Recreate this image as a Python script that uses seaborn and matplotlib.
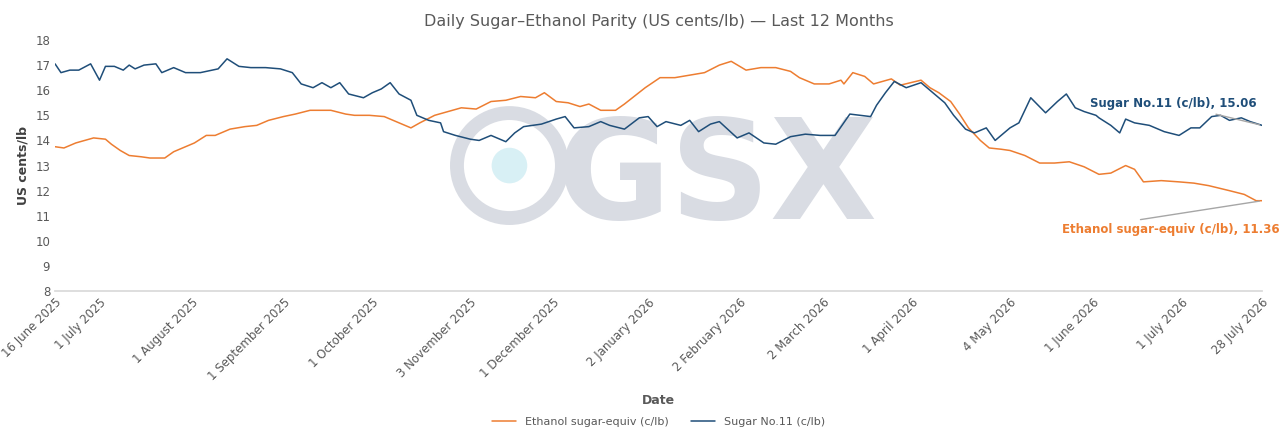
import pandas as pd
import numpy as np
import matplotlib.pyplot as plt
import seaborn as sns
from matplotlib.patches import Circle

sns.set_theme(style="white")
plt.rcParams['font.family'] = ['DejaVu Sans']

start = pd.Timestamp("2025-06-16")

# days since 16 June 2025
sugar_days = [0, 2, 5, 8, 12, 15, 17, 20, 23, 25, 27, 30, 34, 36, 40, 44, 49, 55, 58, 62, 66, 71, 76, 80,
              83, 87, 90, 93, 96, 99, 104, 107, 110, 113, 116, 120, 122, 126, 130, 131, 135, 140, 143, 147,
              152, 155, 158, 164, 169, 172, 175, 180, 184, 187, 192, 197, 200, 203, 206, 211, 214, 217, 221,
              224, 230, 234, 239, 243, 248, 253, 258, 263, 268, 275, 277, 280, 283, 287, 292, 295, 300, 303,
              307, 310, 314, 317, 320, 322, 325, 329, 334, 338, 341, 344, 347, 351, 352, 356, 359, 361, 364,
              369, 374, 379, 383, 386, 390, 393, 396, 400, 403, 407]
sugar_vals = [17.05, 16.7, 16.8, 16.8, 17.05, 16.4, 16.95, 16.95, 16.8, 17.0, 16.85, 17.0, 17.05, 16.7, 16.9,
              16.7, 16.7, 16.85, 17.25, 16.95, 16.9, 16.9, 16.85, 16.7, 16.25, 16.1, 16.3, 16.1, 16.3, 15.85,
              15.7, 15.9, 16.05, 16.3, 15.85, 15.6, 15.0, 14.8, 14.7, 14.35, 14.2, 14.05, 14.0, 14.2, 13.95,
              14.3, 14.55, 14.65, 14.85, 14.95, 14.5, 14.55, 14.75, 14.6, 14.45, 14.9, 14.95, 14.55, 14.75,
              14.6, 14.8, 14.35, 14.65, 14.75, 14.1, 14.3, 13.9, 13.85, 14.15, 14.25, 14.2, 14.2, 15.05, 14.95,
              15.4, 15.9, 16.35, 16.1, 16.3, 16.0, 15.5, 15.0, 14.45, 14.3, 14.5, 14.0, 14.3, 14.5, 14.7, 15.7,
              15.1, 15.55, 15.85, 15.3, 15.15, 15.0, 14.9, 14.6, 14.3, 14.85, 14.7, 14.6, 14.35, 14.2, 14.5,
              14.5, 14.95, 15.0, 14.8, 14.9, 14.75, 14.6]

ethanol_days = [0, 3, 7, 10, 13, 17, 19, 22, 25, 29, 32, 37, 40, 44, 47, 51, 54, 59, 64, 68, 72, 77, 81, 86,
                93, 98, 101, 106, 111, 116, 120, 123, 128, 131, 137, 142, 147, 152, 157, 162, 165, 169, 173,
                177, 180, 184, 189, 192, 199, 204, 209, 214, 219, 224, 228, 233, 238, 243, 248, 251, 256, 261,
                265, 266, 269, 273, 276, 282, 285, 292, 295, 298, 302, 305, 308, 312, 315, 319, 322, 327, 332,
                337, 342, 347, 352, 356, 361, 364, 367, 373, 379, 384, 389, 396, 401, 405, 407]
ethanol_vals = [13.75, 13.7, 13.9, 14.0, 14.1, 14.05, 13.85, 13.6, 13.4, 13.35, 13.3, 13.3, 13.55, 13.75, 13.9,
                14.2, 14.2, 14.45, 14.55, 14.6, 14.8, 14.95, 15.05, 15.2, 15.2, 15.05, 15.0, 15.0, 14.95, 14.7,
                14.5, 14.7, 15.0, 15.1, 15.3, 15.25, 15.55, 15.6, 15.75, 15.7, 15.9, 15.55, 15.5, 15.35, 15.45,
                15.2, 15.2, 15.45, 16.1, 16.5, 16.5, 16.6, 16.7, 17.0, 17.15, 16.8, 16.9, 16.9, 16.75, 16.5,
                16.25, 16.25, 16.4, 16.25, 16.7, 16.55, 16.25, 16.45, 16.2, 16.4, 16.1, 15.9, 15.55, 15.05, 14.5,
                14.0, 13.7, 13.65, 13.6, 13.4, 13.1, 13.1, 13.15, 12.95, 12.65, 12.7, 13.0, 12.85, 12.35, 12.4,
                12.35, 12.3, 12.2, 12.0, 11.85, 11.6, 11.6]

tick_dates = ["2025-06-16", "2025-07-01", "2025-08-01", "2025-09-01", "2025-10-01", "2025-11-03",
              "2025-12-01", "2026-01-02", "2026-02-02", "2026-03-02", "2026-04-01", "2026-05-04",
              "2026-06-01", "2026-07-01", "2026-07-28"]

sugar_label = "Sugar No.11 (c/lb), 15.06"
ethanol_label = "Ethanol sugar-equiv (c/lb), 11.36"

sugar_c = "#1f4e79"
eth_c = "#ed7d31"

df_s = pd.DataFrame({"Date": start + pd.to_timedelta(sugar_days, unit="D"), "v": sugar_vals})
df_e = pd.DataFrame({"Date": start + pd.to_timedelta(ethanol_days, unit="D"), "v": ethanol_vals})

fig = plt.figure(figsize=(12.8, 4.3), dpi=100)
ax = fig.add_axes([0.043, 0.323, 0.943, 0.584])

# watermark
fig.text(0.56, 0.58, "GSX", fontsize=100, fontweight="bold", color="#d9dce3", ha="center", va="center", zorder=0)
wm = fig.add_axes([0.348, 0.466, 0.1, 0.298], zorder=0)
wm.set_xlim(-1, 1); wm.set_ylim(-1, 1); wm.set_aspect("equal"); wm.axis("off")
wm.add_patch(Circle((0, 0), 0.82, fill=False, lw=10, color="#d9dce3"))
wm.add_patch(Circle((0, 0), 0.3, color="#d8f0f5", ec="white", lw=2))
ax.set_zorder(1); ax.patch.set_alpha(0)

sns.lineplot(data=df_e, x="Date", y="v", ax=ax, color=eth_c, lw=1.1, label="Ethanol sugar-equiv (c/lb)")
sns.lineplot(data=df_s, x="Date", y="v", ax=ax, color=sugar_c, lw=1.1, label="Sugar No.11 (c/lb)")

ax.set_xlim(start, pd.Timestamp(tick_dates[-1]))
ax.set_ylim(8, 18)
ax.set_yticks(range(8, 19))
ticks = pd.to_datetime(tick_dates)
ax.set_xticks(ticks)
ax.set_xticklabels([f"{d.day} {d.strftime('%B')} {d.year}" for d in ticks], rotation=45, ha="right",
                   rotation_mode="anchor", fontsize=8.5, color="#595959")
ax.tick_params(axis="y", labelsize=8.5, colors="#595959", length=0)
ax.tick_params(axis="x", length=0)
for s in ["top", "right", "left"]:
    ax.spines[s].set_visible(False)
ax.spines["bottom"].set_color("#d9d9d9")
ax.set_xlabel("Date", fontsize=9, fontweight="bold", color="#595959", labelpad=8)
ax.set_ylabel("US cents/lb", fontsize=9, fontweight="bold", color="#404040")
ax.set_title("Daily Sugar\u2013Ethanol Parity (US cents/lb) \u2014 Last 12 Months", fontsize=11.5,
             color="#595959", pad=10)

end = pd.Timestamp(tick_dates[-1])
ax.annotate(sugar_label, xy=(end, sugar_vals[-1]), xytext=(end - pd.Timedelta(days=2), 15.2),
            ha="right", va="bottom", fontsize=8.5, fontweight="bold", color=sugar_c,
            arrowprops=dict(arrowstyle="-", color="#a6a6a6", lw=1))
ax.annotate(ethanol_label, xy=(end, ethanol_vals[-1]), xytext=(end + pd.Timedelta(days=6), 10.7),
            ha="right", va="top", fontsize=8.5, fontweight="bold", color=eth_c,
            arrowprops=dict(arrowstyle="-", color="#a6a6a6", lw=1, relpos=(0.25, 1.0)))

leg = ax.legend(loc="upper center", bbox_to_anchor=(0.5, -0.46), ncol=2, frameon=False, fontsize=8,
                handlelength=2.2, columnspacing=2)
for t in leg.get_texts():
    t.set_color("#595959")

fig.savefig("out.png", dpi=100)
